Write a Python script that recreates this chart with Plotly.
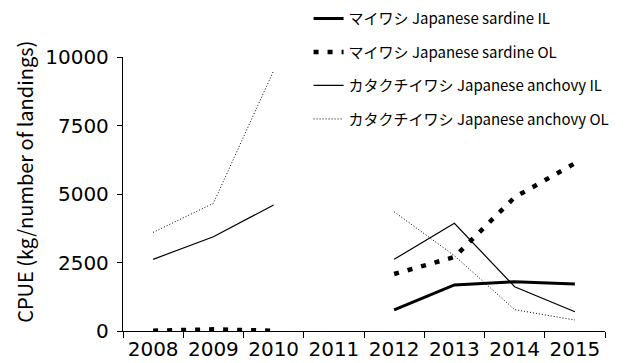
import plotly.graph_objects as go

years = ["2008", "2009", "2010", "2011", "2012", "2013", "2014", "2015"]
sardine_il = [None, None, None, None, 770, 1680, 1800, 1715]
sardine_ol = [10, 60, 10, None, 2080, 2700, 4880, 6120]
anchovy_il = [2616, 3440, 4600, None, 2616, 3930, 1617, 700]
anchovy_ol = [3600, 4660, 9500, None, 4350, 2750, 780, 400]
y_ticks = [0, 2500, 5000, 7500, 10000]
y_tick_labels = ["0", "2500", "5000", "7500", "10000"]

names = [
    "マイワシ Japanese sardine IL",
    "マイワシ Japanese sardine OL",
    "カタクチイワシ Japanese anchovy IL",
    "カタクチイワシ Japanese anchovy OL",
]
series = [sardine_il, sardine_ol, anchovy_il, anchovy_ol]
styles = [
    dict(width=3, dash="solid"),
    dict(width=4.5, dash="5px,9px"),
    dict(width=1.2, dash="solid"),
    dict(width=1, dash="1px,2px"),
]

fig = go.Figure()
for i, (nm, vals, st) in enumerate(zip(names, series, styles)):
    fig.add_trace(go.Scatter(
        x=years, y=vals, mode="lines", name=nm,
        line=dict(color="black", **st),
        connectgaps=False, legendgroup=f"g{i}", hoverinfo="skip",
    ))

fig.update_layout(
    width=633, height=363,
    margin=dict(l=123, r=28, t=57, b=32, autoexpand=False),
    paper_bgcolor="white", plot_bgcolor="white",
    font=dict(family="Noto Sans CJK JP", color="black"),
    showlegend=True,
    legend=dict(
        x=0.385, y=1.2, xanchor="left", yanchor="top",
        font=dict(size=15, family="Noto Sans CJK JP"),
        tracegroupgap=11, bgcolor="rgba(0,0,0,0)",
    ),
    xaxis=dict(
        type="category", range=[-0.5, 7.5], tickson="boundaries",
        showline=True, linecolor="black", linewidth=1.3,
        ticks="outside", ticklen=6, tickcolor="black", tickwidth=1,
        showgrid=False, zeroline=False, tickangle=0,
        tickfont=dict(size=20, family="DejaVu Sans"),
    ),
    yaxis=dict(
        range=[0, 10000], tickvals=y_ticks, ticktext=y_tick_labels,
        showline=True, linecolor="black", linewidth=1.3,
        ticks="outside", ticklen=5, tickcolor="black", tickwidth=1,
        showgrid=False, zeroline=False,
        tickfont=dict(size=20, family="DejaVu Sans"),
        ticklabelstandoff=4,
    ),
    annotations=[dict(
        text="CPUE (kg/number of landings)", textangle=-90,
        xref="paper", yref="paper", x=-0.203, y=0.545,
        xanchor="center", yanchor="middle", showarrow=False,
        font=dict(size=20, family="Noto Sans CJK JP"),
    )],
)

fig.write_html("out.html")
